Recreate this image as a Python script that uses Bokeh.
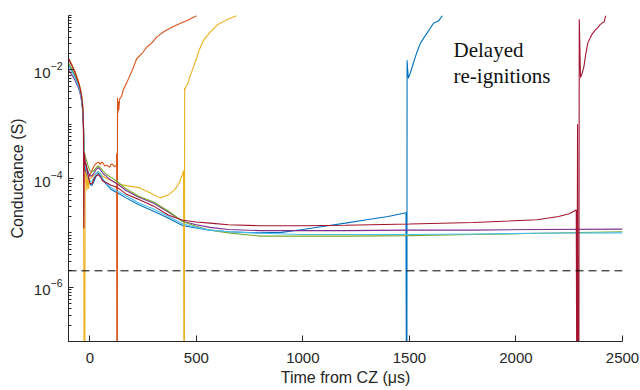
from bokeh.plotting import figure
from bokeh.models import FixedTicker, LogTickFormatter, Span
from bokeh.core.properties import value
from bokeh.embed import file_html
from bokeh.resources import INLINE

# ---------------- data ----------------
X_TICKS = [0, 500, 1000, 1500, 2000, 2500]
Y_MAJOR = [1e-6, 1e-4, 1e-2]
THRESHOLD = 2e-6
X_LABEL = "Time from CZ (μs)"
Y_LABEL = "Conductance (S)"
NOTE = ["Delayed", "re-ignitions"]
NOTE_X = [1707, 1707]
NOTE_Y = [2.27e-2, 7.85e-3]

blue_x = [-100, -85, -70, -55, -45, -38, -33, -30, -27, -24, -20, -10, 0, 10, 20, 30, 40, 50, 60, 80, 100, 130,
          170, 230, 300, 370, 437, 500, 564, 650, 800, 900, 1000, 1100, 1200, 1300, 1400, 1484,
          1486, 1488, 1489, 1491, 1495, 1505, 1519, 1535, 1552, 1570, 1585, 1600, 1613, 1636, 1655]
blue_y = [1.3e-2, 1.0e-2, 7.6e-3, 5.3e-3, 3.9e-3, 2.8e-3, 1.8e-3, 9e-4, 2.8e-4, 1.7e-4, 1.4e-4, 1.05e-4, 7.9e-5,
          7.4e-5, 8.9e-5, 1.12e-4, 1.26e-4, 1.12e-4, 9.5e-5, 7.6e-5, 6.3e-5, 5.4e-5,
          4.4e-5, 3.3e-5, 2.5e-5, 1.86e-5, 1.35e-5, 1.23e-5, 1.12e-5, 1.05e-5, 1.0e-5, 1.02e-5, 1.15e-5, 1.32e-5,
          1.51e-5, 1.74e-5, 2.0e-5, 2.35e-5,
          1e-9, 1e-9, 1.5e-2, 1.1e-2, 7e-3, 9e-3, 1.35e-2, 2.1e-2, 3.1e-2, 4.0e-2, 4.9e-2, 6.0e-2, 7.2e-2, 7.9e-2, 1.0e-1]

orange_x = [-100, -85, -70, -55, -45, -38, -33, -30, -27, -24, -20, -10, 0, 10, 20, 30, 42, 50, 55, 61, 70, 80, 94,
            100, 108, 115, 122, 125, 126, 127, 129, 130, 132, 134, 136, 140, 150, 156, 175, 200, 220, 245, 267, 290,
            314, 340, 361, 390, 423, 460, 503]
orange_y = [1.66e-2, 1.26e-2, 9.3e-3, 6.3e-3, 4.5e-3, 3.2e-3, 2.0e-3, 1.0e-3, 2.5e-4, 1.4e-4, 1.3e-4, 1.1e-4, 1.12e-4,
            1.4e-4, 1.7e-4, 1.9e-4, 2.0e-4, 1.8e-4, 2.0e-4, 1.95e-4, 1.7e-4, 1.75e-4, 1.6e-4,
            1.85e-4, 1.8e-4, 1.65e-4, 1.7e-4, 1.75e-4, 2.9e-4, 1e-9, 1e-9, 3.1e-3, 1.6e-3, 2.6e-3, 1.8e-3, 2.9e-3,
            3.3e-3, 4.2e-3, 6e-3, 1.0e-2, 1.6e-2, 2.0e-2, 2.6e-2, 3.1e-2,
            4.0e-2, 4.8e-2, 5.4e-2, 6.2e-2, 7.1e-2, 8.2e-2, 1.0e-1]

yellow_x = [-100, -85, -70, -55, -45, -38, -33, -30, -26, -24, -22, -18, -14, -10, -6, -2, 0, 10, 20, 30, 40, 50, 60,
            80, 100, 130, 170, 230, 280, 330, 370, 400, 420, 437, 440, 442, 444, 445, 448, 452, 460, 470, 485, 500,
            515, 532, 560, 596, 640, 690]
yellow_y = [1.6e-2, 1.25e-2, 9.4e-3, 6.5e-3, 4.7e-3, 3.4e-3, 2.3e-3, 1.5e-3, 1e-9, 1e-9, 1.2e-4, 1.3e-4, 6e-5, 1.1e-4,
            6.5e-5, 1.05e-4, 1.0e-4, 1.05e-4, 1.15e-4, 1.25e-4, 1.3e-4, 1.2e-4, 1.1e-4,
            1.0e-4, 9.2e-5, 8.0e-5, 7.4e-5, 6.8e-5, 5.5e-5, 4.4e-5, 5.0e-5, 6.3e-5, 8.3e-5, 1.26e-4, 1.4e-4, 1e-9,
            1e-9, 4.7e-3, 4.4e-3, 5e-3, 5.6e-3, 7.5e-3, 1.1e-2, 1.6e-2,
            2.4e-2, 3.4e-2, 4.7e-2, 6.6e-2, 8.3e-2, 1.0e-1]

purple_x = [-100, -85, -70, -55, -45, -38, -33, -30, -27, -24, -20, -10, 0, 10, 20, 30, 40, 50, 60, 80, 100, 130,
            170, 230, 300, 370, 437, 500, 564, 650, 800, 1000, 1200, 1500, 1800, 2100, 2500]
purple_y = [1.0e-2, 8.2e-3, 6.5e-3, 4.8e-3, 3.6e-3, 2.6e-3, 1.7e-3, 1.0e-3, 3.5e-4, 2.3e-4, 2.0e-4, 1.4e-4, 1.12e-4,
            1.12e-4, 1.26e-4, 1.48e-4, 1.58e-4, 1.45e-4, 1.26e-4, 1.07e-4, 9.3e-5, 7.9e-5,
            6.0e-5, 4.5e-5, 3.5e-5, 2.4e-5, 1.62e-5, 1.41e-5, 1.26e-5, 1.15e-5, 1.1e-5, 1.1e-5, 1.1e-5, 1.12e-5,
            1.12e-5, 1.15e-5, 1.17e-5]

green_x = [-100, -85, -70, -55, -45, -38, -33, -30, -27, -24, -20, -10, 0, 10, 20, 30, 40, 50, 60, 80, 100, 130,
           170, 230, 300, 370, 437, 500, 564, 650, 800, 1000, 1200, 1500, 1800, 2100, 2500]
green_y = [1.35e-2, 1.05e-2, 8e-3, 5.6e-3, 4.1e-3, 2.9e-3, 1.9e-3, 1.1e-3, 4e-4, 2.8e-4, 2.5e-4, 1.8e-4, 1.4e-4,
           1.32e-4, 1.4e-4, 1.58e-4, 1.7e-4, 1.58e-4, 1.4e-4, 1.17e-4, 1.05e-4, 8.7e-5,
           6.5e-5, 4.7e-5, 3.7e-5, 2.5e-5, 1.6e-5, 1.32e-5, 1.12e-5, 1.0e-5, 8.7e-6, 8.7e-6, 8.7e-6, 8.9e-6,
           9.3e-6, 9.8e-6, 1.05e-5]

lightblue_x = [-100, -85, -70, -55, -45, -38, -33, -30, -27, -24, -20, -10, 0, 10, 20, 30, 40, 50, 60, 80, 100, 130,
               170, 230, 300, 370, 437, 500, 564, 650, 800, 1000, 1200, 1500, 1800, 2100, 2500]
lightblue_y = [1.2e-2, 9.3e-3, 7.2e-3, 5.1e-3, 3.8e-3, 2.7e-3, 1.8e-3, 1.0e-3, 3.2e-4, 1.9e-4, 1.6e-4, 1.12e-4,
               8.9e-5, 8.9e-5, 1.05e-4, 1.26e-4, 1.35e-4, 1.2e-4, 1.0e-4, 7.9e-5, 6.8e-5, 5.8e-5,
               4.8e-5, 3.55e-5, 2.75e-5, 2.0e-5, 1.45e-5, 1.26e-5, 1.12e-5, 1.05e-5, 9.8e-6, 9.3e-6, 9.3e-6, 9.3e-6,
               9.5e-6, 9.8e-6, 1.0e-5]

red_x = [-100, -85, -70, -55, -45, -38, -33, -30, -28, -26, -22, -20, -10, 0, 10, 20, 30, 40, 50, 60, 80, 100, 130,
         170, 230, 300, 370, 437, 500, 564, 650, 800, 1000, 1200, 1500, 1800, 2100, 2200, 2250, 2283,
         2286, 2289, 2292, 2295, 2297, 2300, 2303, 2310, 2318, 2328, 2337, 2350, 2360, 2372, 2384, 2395, 2407,
         2414, 2421]
red_y = [1.6e-2, 1.22e-2, 9.0e-3, 6.2e-3, 4.4e-3, 3.1e-3, 2.0e-3, 1.1e-3, 1.2e-5, 3.0e-4, 1.9e-4, 1.9e-4, 1.26e-4,
         8.3e-5, 7.9e-5, 1.0e-4, 1.12e-4, 1.17e-4, 1.07e-4, 9.1e-5, 8.3e-5, 7.5e-5, 6.8e-5,
         5.2e-5, 4.1e-5, 3.1e-5, 2.1e-5, 1.7e-5, 1.58e-5, 1.51e-5, 1.41e-5, 1.35e-5, 1.35e-5, 1.38e-5, 1.45e-5,
         1.55e-5, 1.74e-5, 2.0e-5, 2.24e-5, 2.63e-5,
         1e-9, 1.0e-3, 1e-9, 1e-9, 8.5e-2, 2.5e-2, 7.2e-3, 8.5e-3, 1.1e-2, 2.0e-2, 3.1e-2, 4.0e-2, 4.7e-2, 5.4e-2,
         6.0e-2, 6.8e-2, 7.4e-2, 7.6e-2, 1.0e-1]

SERIES = [
    (blue_x, blue_y, "#0072BD"),
    (orange_x, orange_y, "#D95319"),
    (yellow_x, yellow_y, "#EDB120"),
    (purple_x, purple_y, "#7E2F8E"),
    (green_x, green_y, "#77AC30"),
    (lightblue_x, lightblue_y, "#4DBEEE"),
    (red_x, red_y, "#A2142F"),
]

# ---------------- figure ----------------
AX = "#262626"
p = figure(width=640, height=390, x_range=(-100, 2500), y_range=(1e-7, 1e-1),
           y_axis_type="log", output_backend="svg", toolbar_location=None,
           min_border_left=68, min_border_right=18, min_border_top=15, min_border_bottom=49)
p.outline_line_color = None
p.background_fill_color = "white"
p.border_fill_color = "white"
p.grid.visible = False

for xs, ys, c in SERIES:
    p.line(xs, ys, line_color=c, line_width=1.1)

p.add_layout(Span(location=THRESHOLD, dimension="width", line_color="black",
                  line_width=1, line_dash="8 5"))

p.text(x=NOTE_X, y=NOTE_Y, text=NOTE, text_font=value("Liberation Serif"),
       text_font_size="21px", text_color="#111111", text_align="left",
       text_baseline="alphabetic")

minor = []
for k in range(-7, -1):
    for m in range(1, 10):
        v = m * 10.0 ** k
        if not any(abs(v - t) / t < 1e-9 for t in Y_MAJOR):
            minor.append(v)
minor.append(1e-1)

xa = p.xaxis[0]
xa.ticker = FixedTicker(ticks=X_TICKS)
ya = p.yaxis[0]
ya.ticker = FixedTicker(ticks=Y_MAJOR, minor_ticks=minor)
ya.formatter = LogTickFormatter()

for ax in (xa, ya):
    ax.axis_line_color = AX
    ax.axis_line_width = 1
    ax.major_tick_line_color = AX
    ax.minor_tick_line_color = AX
    ax.major_tick_out = 0
    ax.minor_tick_out = 0
    ax.major_label_text_font = "Liberation Sans"
    ax.major_label_text_font_size = "15px"
    ax.major_label_text_color = AX
    ax.axis_label_text_font = "Liberation Sans"
    ax.axis_label_text_font_size = "16px"
    ax.axis_label_text_font_style = "normal"
    ax.axis_label_text_color = AX

xa.major_tick_in = 6
xa.minor_tick_in = 0
xa.major_label_standoff = 11
xa.axis_label = X_LABEL
xa.axis_label_standoff = 3

ya.major_tick_in = 5
ya.minor_tick_in = 3
ya.major_label_standoff = 6
ya.axis_label = Y_LABEL
ya.axis_label_standoff = 5

open("out.html", "w").write(file_html(p, INLINE))
